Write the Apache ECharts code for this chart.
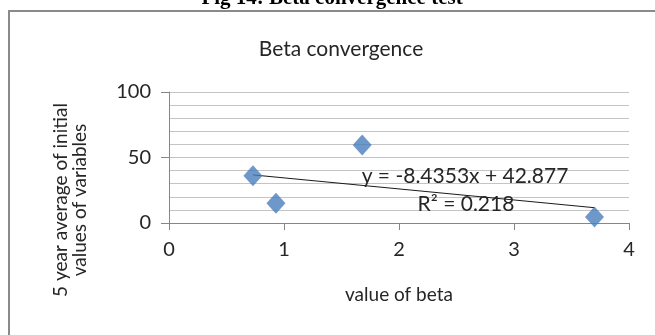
<!DOCTYPE html>
<html>
<head>
<meta charset="utf-8">
<script src="https://cdn.jsdelivr.net/npm/echarts@6/dist/echarts.min.js"></script>
<style>
  html, body { margin: 0; padding: 0; background: #fff; }
  #chart { width: 655px; height: 335px; }
</style>
</head>
<body>
<div id="chart"></div>
<script>
// Beta values (x) and 5-year averages of initial values (y)
const betaValues = [0.73, 0.93, 1.68, 3.70];
const initialAverages = [36, 15, 59.5, 4.5];

// Linear trend fitted to the points
const trendSlope = -8.4353;
const trendIntercept = 42.877;
const trendR2 = 0.218;

// Axis ranges
const xRange = [0, 4, 1];
const yRange = [0, 100, 50];

const FONT = 'Lato';
const TEXT_COLOR = '#262626';

const points = betaValues.map((b, i) => [b, initialAverages[i]]);
const xMin = Math.min(...betaValues);
const xMax = Math.max(...betaValues);
const trendPoints = [xMin, xMax].map(x => [x, trendSlope * x + trendIntercept]);

const chart = echarts.init(document.getElementById('chart'));

chart.setOption({
  animation: false,
  backgroundColor: '#ffffff',
  title: {
    text: 'Beta convergence',
    left: 336,
    top: 34,
    textAlign: 'center',
    textStyle: { fontFamily: FONT, fontSize: 21, fontWeight: 'normal', color: TEXT_COLOR }
  },
  grid: { left: 169, right: 26, top: 92, bottom: 112 },
  xAxis: {
    type: 'value',
    min: xRange[0], max: xRange[1], interval: xRange[2],
    name: 'value of beta',
    nameLocation: 'middle',
    nameGap: 62,
    nameTextStyle: { fontFamily: FONT, fontSize: 19, color: TEXT_COLOR },
    axisLine: { show: true, onZero: false, lineStyle: { color: '#868686', width: 1 } },
    axisTick: { show: true, length: 7, lineStyle: { color: '#868686' } },
    axisLabel: { fontFamily: FONT, fontSize: 20, color: TEXT_COLOR, margin: 17 },
    splitLine: { show: false }
  },
  yAxis: {
    type: 'value',
    min: yRange[0], max: yRange[1], interval: yRange[2],
    axisLine: { show: true, onZero: false, lineStyle: { color: '#868686', width: 1 } },
    axisTick: { show: true, length: 8, lineStyle: { color: '#868686' } },
    axisLabel: { fontFamily: FONT, fontSize: 20, color: TEXT_COLOR, margin: 18 },
    splitLine: { show: true, lineStyle: { color: '#c4c4c4', width: 1 } },
    minorTick: { show: false, splitNumber: 5 },
    minorSplitLine: { show: true, lineStyle: { color: '#c4c4c4', width: 1 } }
  },
  series: [
    {
      type: 'line',
      data: trendPoints,
      symbol: 'none',
      lineStyle: { color: '#1a1a1a', width: 1 },
      z: 3
    },
    {
      type: 'scatter',
      data: points,
      symbol: 'diamond',
      symbolSize: [19, 21],
      itemStyle: { color: '#4a7ebb' },
      z: 4
    }
  ],
  graphic: [
    {
      type: 'rect',
      shape: { x: 9, y: 11, width: 700, height: 400 },
      style: { fill: 'none', stroke: '#8a8a8a', lineWidth: 2 },
      silent: true
    },
    {
      type: 'text',
      x: 332, y: 9,
      style: {
        text: 'Fig 14: Beta convergence test',
        font: 'bold 21px "Liberation Serif"',
        fill: '#000',
        align: 'center',
        verticalAlign: 'bottom'
      }
    },
    {
      type: 'text',
      x: 70, y: 200,
      rotation: Math.PI / 2,
      style: {
        text: '5 year average of initial\nvalues of variables',
        font: '19px Lato',
        fill: TEXT_COLOR,
        align: 'center',
        verticalAlign: 'middle',
        lineHeight: 19
      }
    },
    {
      type: 'text',
      x: 465, y: 176,
      style: {
        text: 'y = -8.4353x + 42.877',
        font: '21px Lato',
        fill: TEXT_COLOR,
        align: 'center',
        verticalAlign: 'middle'
      },
      z: 10
    },
    {
      type: 'text',
      x: 466, y: 204,
      style: {
        text: 'R\u00B2 = ' + trendR2,
        font: '21px Lato',
        fill: TEXT_COLOR,
        align: 'center',
        verticalAlign: 'middle'
      },
      z: 10
    }
  ]
});
</script>
</body>
</html>
